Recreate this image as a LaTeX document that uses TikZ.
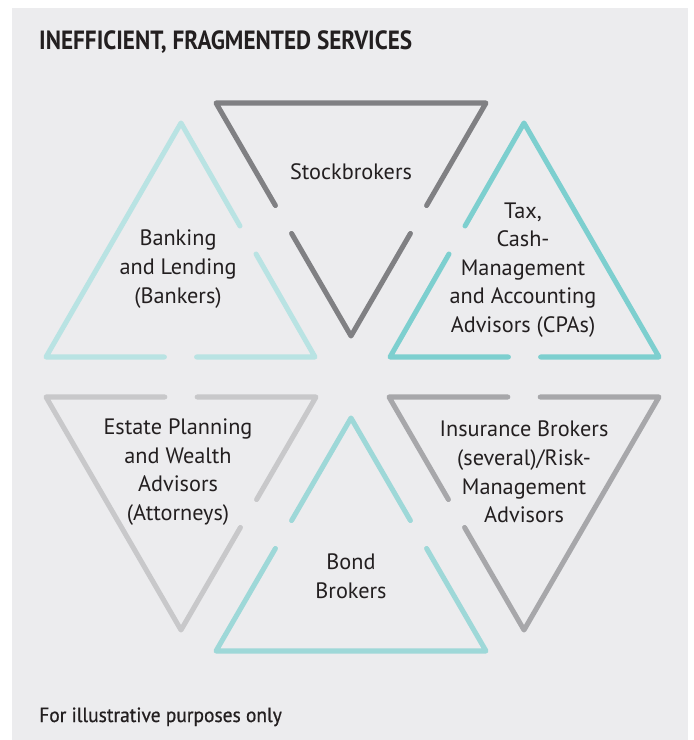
\documentclass[tikz,border=0pt]{standalone}
\usepackage{fontspec}
\setmainfont{PT Sans}
\newfontfamily\headfont[FakeStretch=0.88]{PT Sans}
\newfontfamily\notefont[FakeBold=0.6,FakeStretch=0.95]{PT Sans}
\usepackage{tikz}
\usetikzlibrary{calc,positioning}

\definecolor{panel}{HTML}{ECECEE}
\definecolor{ink}{HTML}{231F20}
\definecolor{stockgray}{HTML}{808083}
\definecolor{bankteal}{HTML}{B9E3E3}
\definecolor{taxteal}{HTML}{7DCFCF}
\definecolor{estategray}{HTML}{C8C8CA}
\definecolor{insurgray}{HTML}{A7A7AA}
\definecolor{bondteal}{HTML}{9ED8D8}

\tikzstyle{tri} = [line width=4.3pt,line cap=round,line join=round]
\tikzstyle{blurb} = [align=center,text=ink,inner sep=0pt,font=\fontsize{19}{24.4}\selectfont]

% triangle #2-#3-#4, broken halfway along the two sides that meet in #2
\newcommand{\splittri}[4]{%
  \draw [tri,#1] ($(#2)!0.44!(#3)$) -- (#2) -- ($(#2)!0.44!(#4)$);
  \draw [tri,#1] ($(#2)!0.56!(#3)$) -- (#3) -- (#4) -- ($(#2)!0.56!(#4)$);
}

\begin{document}
\begin{tikzpicture}[x=0.03cm,y=-0.03cm]
    \fill [white] (0,0) rectangle (693,740);
    \fill [panel] (12,8) rectangle (688,740);
    \useasboundingbox (0,0) rectangle (693,740);

    \node [anchor=base west,text=ink,inner sep=0pt,font=\headfont\bfseries\fontsize{22.5}{26}\selectfont]
      (title) at (39,50) {INEFFICIENT, FRAGMENTED SERVICES};

    % corners
    \coordinate (stock-a) at (351,336);
    \coordinate (stock-b) at (216,103);
    \coordinate (stock-c) at (486,103);
    \coordinate (bank-a) at (315,357);
    \coordinate (bank-b) at (181,123);
    \coordinate (bank-c) at (46,357);
    \coordinate (tax-a) at (390,357);
    \coordinate (tax-b) at (524,123);
    \coordinate (tax-c) at (659,357);
    \coordinate (estate-a) at (316,397);
    \coordinate (estate-b) at (46,397);
    \coordinate (estate-c) at (181,630);
    \coordinate (insur-a) at (389,397);
    \coordinate (insur-b) at (659,397);
    \coordinate (insur-c) at (524,630);
    \coordinate (bond-a) at (351,418);
    \coordinate (bond-b) at (216,651);
    \coordinate (bond-c) at (486,651);

    \splittri{stockgray}{stock-a}{stock-b}{stock-c}
    \splittri{bankteal}{bank-a}{bank-b}{bank-c}
    \splittri{taxteal}{tax-a}{tax-b}{tax-c}
    \splittri{estategray}{estate-a}{estate-b}{estate-c}
    \splittri{insurgray}{insur-a}{insur-b}{insur-c}
    \splittri{bondteal}{bond-a}{bond-b}{bond-c}

    \node [blurb] (stock) at (351,172) {Stockbrokers};
    \node [blurb] (bank) at (178,269) {Banking\\and Lending\\(Bankers)};
    \node [blurb] (tax) at (523,270) {Tax,\\Cash-\\Management\\and Accounting\\Advisors (CPAs)};
    \node [blurb] (estate) at (178,472) {Estate Planning\\and Wealth\\Advisors\\(Attorneys)};
    \node [blurb] (insur) at (524,472) {Insurance Brokers\\(several)/Risk-\\Management\\Advisors};
    \node [blurb] (bond) at (351,576) {Bond\\Brokers};

    \node [anchor=base west,text=ink,inner sep=0pt,font=\notefont\fontsize{17.5}{20}\selectfont]
      (note) at (39,722) {For illustrative purposes only};
\end{tikzpicture}
\end{document}
